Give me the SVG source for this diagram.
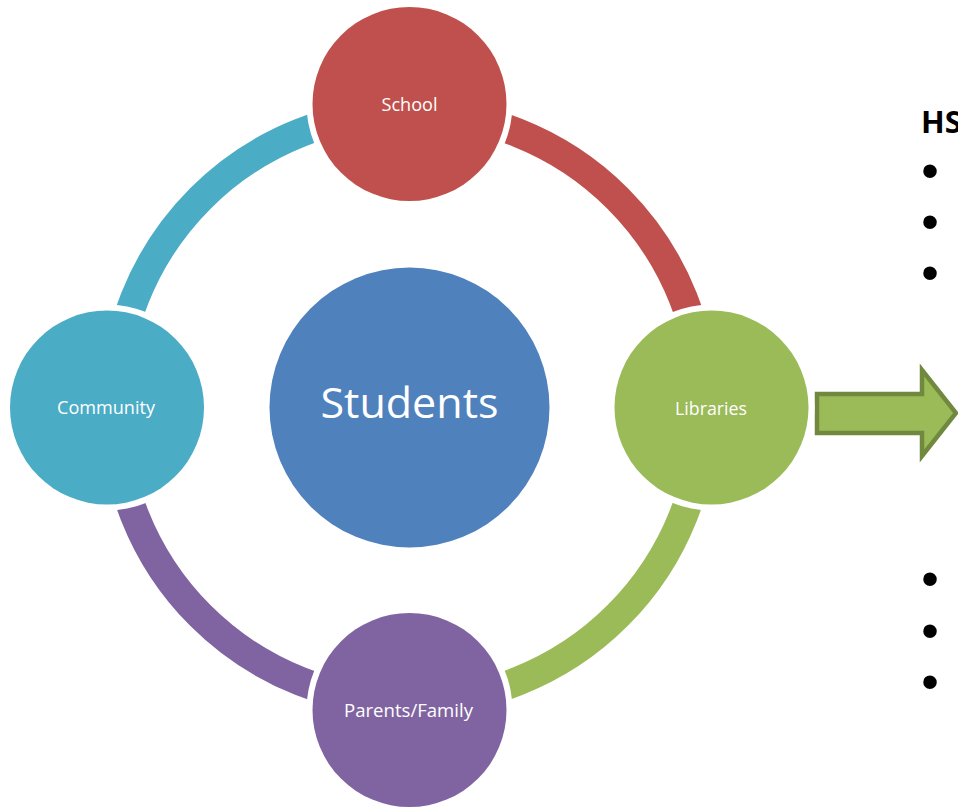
<svg xmlns="http://www.w3.org/2000/svg" width="958" height="808" viewBox="0 0 958 808">
<style>
.ring{fill:none;stroke-width:29;stroke-linecap:butt}
.gap{fill:#ffffff}
.lbl{font-family:"Open Sans","Liberation Sans",sans-serif;fill:#ffffff;text-anchor:middle;font-size:17.5px}
.big{font-size:42px}
.side{font-family:"Open Sans","Liberation Sans",sans-serif;fill:#000000}
.bul{font-family:"Liberation Sans",Arial,sans-serif;font-size:50px;fill:#000000;text-anchor:middle}
</style>
<rect width="958" height="808" fill="#ffffff"/>
<g id="connectors">
<path class="ring" stroke="#C0504D" d="M409,112 A295,295 0 0 1 704,407"/>
<path class="ring" stroke="#9BBB59" d="M704,407 A295,295 0 0 1 409,702"/>
<path class="ring" stroke="#8064A2" d="M409,702 A295,295 0 0 1 114,407"/>
<path class="ring" stroke="#4BACC6" d="M114,407 A295,295 0 0 1 409,112"/>
<path id="arrow" d="M817,394 L922,394 L922,370 L956,413 L922,456 L922,433 L817,433 Z" fill="#9BBB59" stroke="#71893F" stroke-width="4.5" stroke-linejoin="miter"/>
</g>
<g id="students">
<circle cx="409.5" cy="407.5" r="140" fill="#4F81BD"/>
<text class="lbl big" x="409.5" y="418" textLength="178" lengthAdjust="spacingAndGlyphs">Students</text>
</g>
<g id="school">
<circle class="gap" cx="409.5" cy="104" r="103"/>
<circle cx="409.5" cy="104" r="97" fill="#C0504D"/>
<text class="lbl" x="409.5" y="111" textLength="56" lengthAdjust="spacingAndGlyphs">School</text>
</g>
<g id="libraries">
<circle class="gap" cx="711.5" cy="407.5" r="103"/>
<circle cx="711.5" cy="407.5" r="97" fill="#9BBB59"/>
<text class="lbl" x="711" y="415" textLength="72" lengthAdjust="spacingAndGlyphs">Libraries</text>
</g>
<g id="parents">
<circle class="gap" cx="409.5" cy="710" r="103"/>
<circle cx="409.5" cy="710" r="97" fill="#8064A2"/>
<text class="lbl" x="408.5" y="717" textLength="129" lengthAdjust="spacingAndGlyphs">Parents/Family</text>
</g>
<g id="community">
<circle class="gap" cx="107" cy="407.5" r="103"/>
<circle cx="107" cy="407.5" r="97" fill="#4BACC6"/>
<text class="lbl" x="106" y="414" textLength="98" lengthAdjust="spacingAndGlyphs">Community</text>
</g>
<g id="side-text">
<text class="side" x="921" y="133" font-size="31" font-weight="bold">HS</text>
<text class="bul" x="930" y="187.5">•</text>
<text class="bul" x="930" y="238.5">•</text>
<text class="bul" x="930" y="289.5">•</text>
<text class="bul" x="930" y="595.5">•</text>
<text class="bul" x="930" y="647.5">•</text>
<text class="bul" x="930" y="698.5">•</text>
</g>
</svg>
